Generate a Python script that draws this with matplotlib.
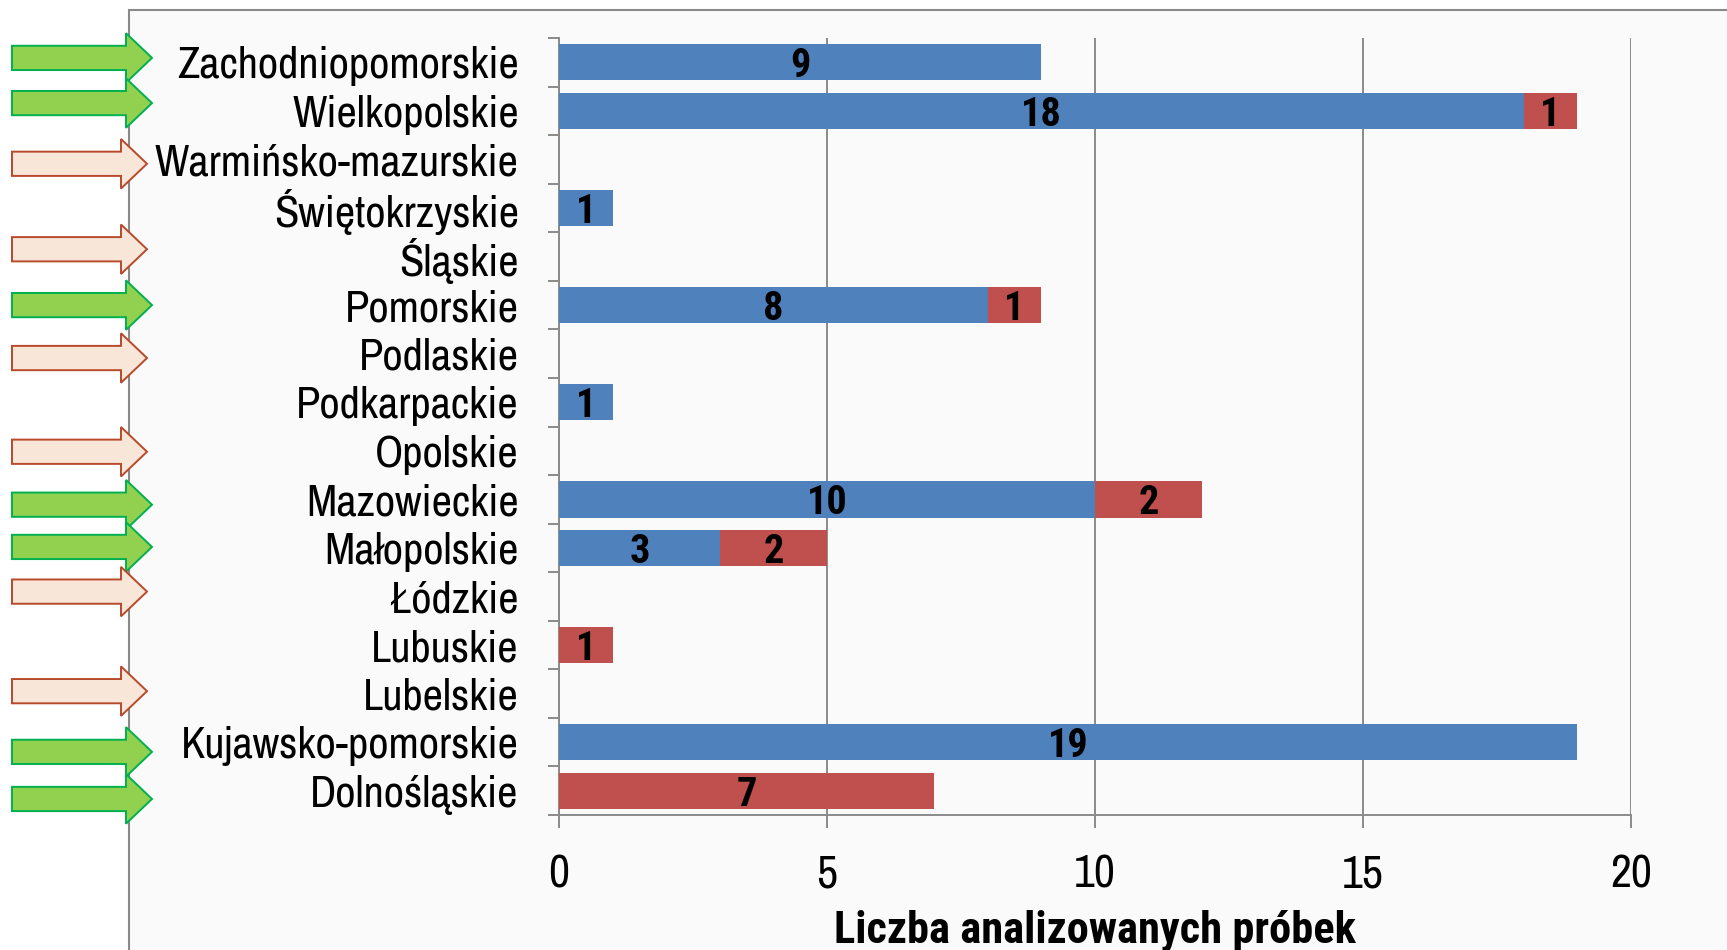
import numpy as np
import matplotlib.pyplot as plt
from matplotlib.patches import Rectangle, FancyArrow
from matplotlib import transforms

NARROW = ['Archivo Narrow', 'Liberation Sans', 'DejaVu Sans']
NARROW_BOLD = ['Roboto Condensed', 'Liberation Sans', 'DejaVu Sans']
plt.rcParams['font.family'] = NARROW

# Data (top to bottom as in the chart)
regions = ['Zachodniopomorskie', 'Wielkopolskie', 'Warmińsko-mazurskie', 'Świętokrzyskie',
           'Śląskie', 'Pomorskie', 'Podlaskie', 'Podkarpackie', 'Opolskie', 'Mazowieckie',
           'Małopolskie', 'Łódzkie', 'Lubuskie', 'Lubelskie', 'Kujawsko-pomorskie', 'Dolnośląskie']
blue_vals = [9, 18, 0, 1, 0, 8, 0, 1, 0, 10, 3, 0, 0, 0, 19, 0]
red_vals = [0, 1, 0, 0, 0, 1, 0, 0, 0, 2, 2, 0, 1, 0, 0, 7]
# arrow markers on the left: g = green, l = light, '' = none
arrow_kind = ['g', 'g', 'l', '', 'l', 'g', 'l', '', 'l', 'g', 'g', 'l', '', 'l', 'g', 'g']
arrow_shift = [-0.09, -0.16, 0.09, 0, -0.15, 0, 0.09, 0, 0.02, 0.11, -0.02, -0.1, 0, -0.05, 0.2, 0.17]
x_ticks = [0, 5, 10, 15, 20]

W, H = 1727, 950
BLUE = '#4F81BD'
RED = '#C0504D'
GRAY = '#8a8a8a'

fig = plt.figure(figsize=(W / 100, H / 100), dpi=100)
fig.patch.set_facecolor('white')

# outer chart frame
fig.patches.append(Rectangle((129 / W, -0.05), 1.0, 1 - 10 / H + 0.05, transform=fig.transFigure,
                             facecolor='#fafafa', edgecolor=GRAY, lw=1.5, zorder=-10))

ax = fig.add_axes([559 / W, 1 - 815 / H, (1631 - 559) / W, (815 - 38) / H])
ax.set_facecolor('none')

y = np.arange(len(regions))
ax.barh(y, blue_vals, height=0.75, color=BLUE, zorder=3)
ax.barh(y, red_vals, left=blue_vals, height=0.75, color=RED, zorder=3)

for i in range(len(regions)):
    if blue_vals[i]:
        ax.text(blue_vals[i] / 2, i + 0.08, str(blue_vals[i]), ha='center', va='center',
                fontsize=29, fontweight='bold', family=NARROW_BOLD, zorder=4)
    if red_vals[i]:
        ax.text(blue_vals[i] + red_vals[i] / 2, i + 0.08, str(red_vals[i]), ha='center', va='center',
                fontsize=29, fontweight='bold', family=NARROW_BOLD, zorder=4)

ax.set_xlim(0, 20)
ax.set_ylim(len(regions) - 0.5, -0.5)
ax.set_xticks(x_ticks)
ax.set_yticks(y)
ax.set_yticklabels(regions)
ax.set_yticks(np.arange(-0.5, len(regions), 1), minor=True)
ax.grid(axis='x', color=GRAY, lw=1.4, zorder=1)

for s in ['top', 'right']:
    ax.spines[s].set_visible(False)
for s in ['left', 'bottom']:
    ax.spines[s].set_color(GRAY)
    ax.spines[s].set_linewidth(1.4)

ax.tick_params(axis='x', length=9.5, width=1.4, color=GRAY, labelsize=33, pad=18)
ax.tick_params(axis='y', which='major', length=0, labelsize=32, pad=29)
ax.tick_params(axis='y', which='minor', length=8, width=1.4, color=GRAY)
ax.set_xlabel('Liczba analizowanych próbek', fontsize=32, fontweight='bold', family=NARROW_BOLD,
              labelpad=11)

# arrows on the left side
trans = transforms.blended_transform_factory(fig.transFigure, ax.transData)
for i, k in enumerate(arrow_kind):
    if not k:
        continue
    if k == 'g':
        fc, ec, tip = '#92D050', '#00B050', 152
    else:
        fc, ec, tip = '#F8E6D8', '#B8492B', 147
    arr = FancyArrow(12 / W, i + arrow_shift[i], (tip - 12) / W, 0, width=0.5, head_width=1.02,
                     head_length=26 / W, length_includes_head=True, transform=trans,
                     facecolor=fc, edgecolor=ec, lw=1.4, clip_on=False, zorder=5)
    ax.add_patch(arr)

fig.savefig('out.png', dpi=100)
